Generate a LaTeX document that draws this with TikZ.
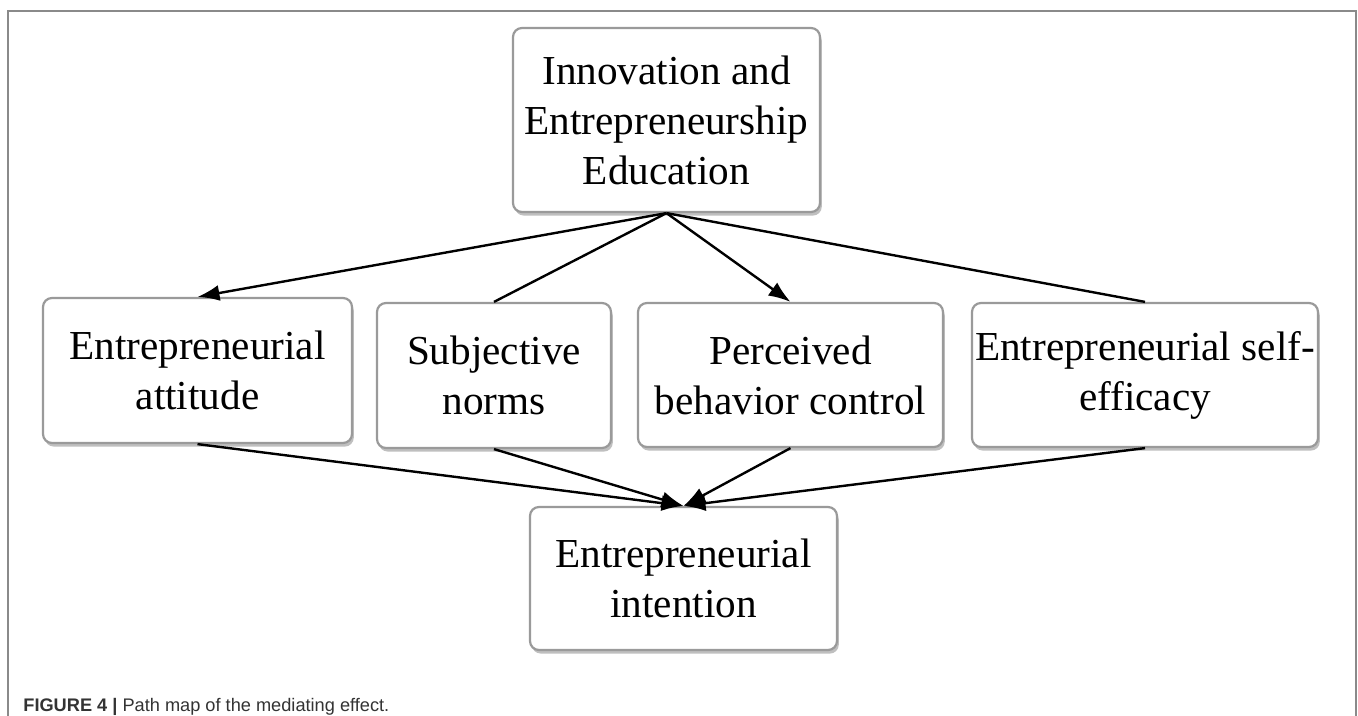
\documentclass[tikz,border=0pt]{standalone}
\usepackage{fontspec}
\setmainfont{Liberation Serif}
\newfontfamily\capfont{Liberation Sans}
\usetikzlibrary{arrows.meta,shadows}
\definecolor{framegray}{HTML}{8A8A8A}
\definecolor{boxgray}{HTML}{9A9A9A}
\definecolor{captext}{HTML}{333333}
\tikzset{
  box/.style={draw=boxgray, line width=1.1pt, fill=white, rounded corners=4.5pt,
    inner sep=0pt, align=center, font=\fontsize{20.6pt}{25pt}\selectfont,
    drop shadow={shadow xshift=0.9pt, shadow yshift=-1.8pt, fill=gray!50, opacity=1}},
  link/.style={line width=1.2pt, draw=black},
  arr/.style={link, -{Latex[length=11pt,width=8pt]}},
}
\begin{document}
\begin{tikzpicture}[x=0.5pt,y=-0.5pt]
\useasboundingbox (0,0) rectangle (1358,716);
% outer frame
\draw[framegray, line width=1pt] (8,716) -- (8,11) -- (1356,11) -- (1356,716);

\node[box, minimum width=153.5pt, minimum height=92pt] (top) at (666.5,120)
  {Innovation and\\Entrepreneurship\\Education};
\node[box, minimum width=154.5pt, minimum height=72.5pt] (A) at (197.5,370.5)
  {Entrepreneurial\\attitude};
\node[box, minimum width=117pt, minimum height=72.5pt] (B) at (494,375.5)
  {Subjective\\norms};
\node[box, minimum width=152.5pt, minimum height=72pt] (C) at (790.5,375)
  {Perceived\\behavior control};
\node[box, minimum width=173pt, minimum height=72pt] (D) at (1145,375)
  {Entrepreneurial self-\\efficacy};
\node[box, minimum width=153.5pt, minimum height=71.5pt] (E) at (683.5,578.5)
  {Entrepreneurial\\intention};

\draw[arr] (top.south) -- (A.north);
\draw[link] (top.south) -- (B.north);
\draw[arr] (top.south) -- (C.north);
\draw[link] (top.south) -- (D.north);

\draw[arr] (A.south) -- (E.north);
\draw[arr] (B.south) -- (E.north);
\draw[arr] (C.south) -- (E.north);
\draw[arr] (D.south) -- (E.north);

\node[anchor=base west, inner sep=0pt, text=captext, font=\capfont\fontsize{9.1pt}{11pt}\selectfont] (cap) at (23,711)
  {\textbf{FIGURE 4 |} Path map of the mediating effect.};
\end{tikzpicture}
\end{document}
